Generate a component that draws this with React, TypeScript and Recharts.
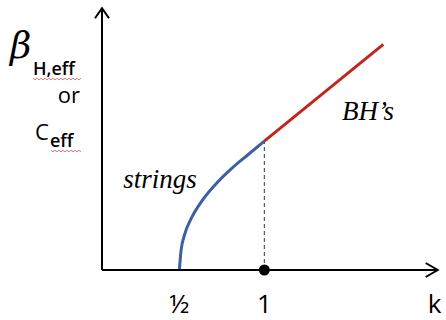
import React from 'react';
import { LineChart, Line, XAxis, YAxis, ReferenceLine, ReferenceDot, Label } from 'recharts';

// k values and effective beta/c along the string branch
const stringK = [0.5, 0.51, 0.53, 0.57, 0.63, 0.71, 0.81, 0.9, 1.0];
const stringBeta = [0, 0.15, 0.27, 0.4, 0.53, 0.66, 0.79, 0.89, 1.0];
// black-hole branch
const bhK = [1.0, 1.7];
const bhBeta = [1.0, 1.75];
// axis ticks
const kTicks = [0.5, 1];
const kTickLabels = ['½', '1'];
const kDomain: [number, number] = [0.045, 2.02];
const betaDomain: [number, number] = [0, 2.03];
const transitionK = 1;
const transitionBeta = 1;
const stringsLabelPos = { k: 0.386, beta: 0.636 };
const bhLabelPos = { k: 1.61, beta: 1.163 };

const stringsData = stringK.map((k, i) => ({ k, beta: stringBeta[i] }));
const bhData = bhK.map((k, i) => ({ k, beta: bhBeta[i] }));

const SANS = "'Comic Sans MS', 'Open Sans', sans-serif";
const SERIF = "'Book Antiqua', Palatino, 'Liberation Serif', serif";

const squiggle = (x0: number, y0: number, len: number) => {
  let d = `M${x0},${y0}`;
  for (let i = 0, x = x0; x < x0 + len; i++) {
    x += 2;
    d += ` L${x},${y0 + (i % 2 === 0 ? 1.5 : 0)}`;
  }
  return d;
};

const KTick = (props: any) => {
  const { x, y, payload } = props;
  const idx = kTicks.indexOf(payload.value);
  return (
    <text x={x} y={y} dy={35} textAnchor="middle" fontSize={26} fontFamily={SANS} fill="#000">
      {kTickLabels[idx]}
    </text>
  );
};

const KLabel = (props: any) => {
  const vb = props.viewBox;
  return (
    <text x={vb.x + vb.width - 3} y={vb.y + 43} textAnchor="middle" fontSize={26} fontFamily={SANS} fill="#000">
      k
    </text>
  );
};

const YLabel = (props: any) => {
  const vb = props.viewBox;
  const x = vb.x;
  const y = vb.y;
  return (
    <g fill="#000">
      <text x={x - 92} y={y + 50} fontSize={37} fontStyle="italic" fontFamily="'DejaVu Serif', serif">β</text>
      <text x={x - 69} y={y + 67} fontSize={18} fontWeight={600} fontFamily={SANS}>H,eff</text>
      <path d={squiggle(x - 69, y + 70, 47)} stroke="#e05050" strokeWidth={0.8} fill="none" />
      <text x={x - 22} y={y + 95} fontSize={22} textAnchor="end" fontFamily={SANS}>or</text>
      <text x={x - 67} y={y + 132} fontSize={22} fontFamily={SANS}>C</text>
      <text x={x - 52} y={y + 139} fontSize={18} fontWeight={600} fontFamily={SANS}>eff</text>
      <path d={squiggle(x - 51, y + 142, 30)} stroke="#e05050" strokeWidth={0.8} fill="none" />
    </g>
  );
};

const XArrow = (p: any) => (
  <path d={`M${p.cx - 12},${p.cy - 7} L${p.cx},${p.cy} L${p.cx - 12},${p.cy + 7}`} stroke="#000" strokeWidth={2} fill="none" />
);
const YArrow = (p: any) => (
  <path d={`M${p.cx - 7},${p.cy + 10} L${p.cx},${p.cy} L${p.cx + 7},${p.cy + 10}`} stroke="#000" strokeWidth={2} fill="none" />
);

const TextMark = (text: string, font: string, size: number) => (p: any) => (
  <text x={p.cx} y={p.cy} textAnchor="middle" fontSize={size} fontStyle="italic" fontFamily={font} fill="#000">
    {text}
  </text>
);

export default function App() {
  return (
    <div style={{ position: 'absolute', left: 0, top: 0, background: '#fff' }}>
      <LineChart width={446} height={320} margin={{ top: 8.3, right: 8.3, bottom: 0, left: 102 }}>
        <XAxis
          dataKey="k"
          type="number"
          domain={kDomain}
          ticks={kTicks}
          tick={<KTick />}
          tickLine={false}
          axisLine={{ stroke: '#000', strokeWidth: 2 }}
          height={50}
          allowDataOverflow
        >
          <Label content={<KLabel />} />
        </XAxis>
        <YAxis type="number" domain={betaDomain} hide allowDataOverflow />
        <ReferenceLine x={kDomain[0]} stroke="#000" strokeWidth={2} ifOverflow="visible">
          <Label content={<YLabel />} />
        </ReferenceLine>
        <ReferenceLine
          segment={[{ x: transitionK, y: 0 }, { x: transitionK, y: transitionBeta }]}
          stroke="#333"
          strokeWidth={1}
          strokeDasharray="4 3"
        />
        <Line data={stringsData} dataKey="beta" type="monotone" stroke="#3d5fa3" strokeWidth={3} dot={false} isAnimationActive={false} />
        <Line data={bhData} dataKey="beta" type="linear" stroke="#c0261c" strokeWidth={3} dot={false} isAnimationActive={false} />
        <ReferenceDot x={transitionK} y={0} r={5.5} fill="#000" stroke="none" ifOverflow="visible" />
        <ReferenceDot x={kDomain[1]} y={0} r={0} shape={XArrow} ifOverflow="visible" />
        <ReferenceDot x={kDomain[0]} y={betaDomain[1]} r={0} shape={YArrow} ifOverflow="visible" />
        <ReferenceDot x={stringsLabelPos.k} y={stringsLabelPos.beta} r={0} shape={TextMark('strings', SERIF, 27)} ifOverflow="visible" />
        <ReferenceDot x={bhLabelPos.k} y={bhLabelPos.beta} r={0} shape={TextMark('BH’s', "'URW Chancery L', 'Liberation Serif', serif", 27)} ifOverflow="visible" />
      </LineChart>
    </div>
  );
}
